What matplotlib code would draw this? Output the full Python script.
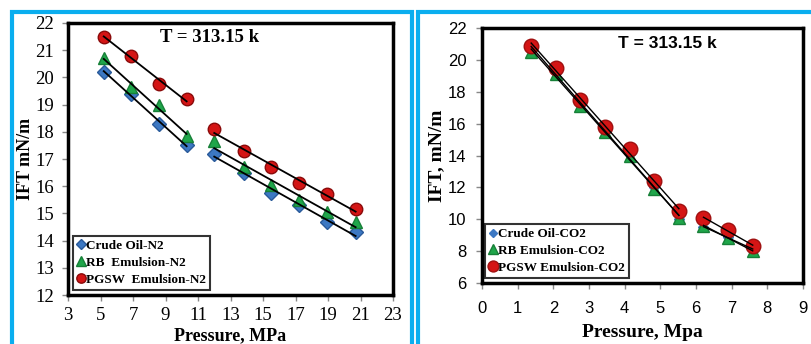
import numpy as np
import matplotlib
matplotlib.use("Agg")
from matplotlib import pyplot as plt
from matplotlib.patches import Rectangle

# ---- N2 data (left panel) ----
p_n2 = [5.2, 6.9, 8.6, 10.3, 12.0, 13.8, 15.5, 17.2, 18.95, 20.7]
crude_n2 = [20.2, 19.4, 18.3, 17.5, 17.2, 16.5, 15.75, 15.3, 14.7, 14.3]
rb_n2 = [20.7, 19.65, 19.0, 17.85, 17.65, 16.7, 16.05, 15.5, 15.05, 14.7]
pgsw_n2 = [21.5, 20.8, 19.75, 19.2, 18.1, 17.3, 16.7, 16.1, 15.7, 15.15]
split_n2 = 4

# ---- CO2 data (right panel) ----
p_co2 = [1.38, 2.07, 2.76, 3.45, 4.14, 4.83, 5.52, 6.21, 6.9, 7.59]
crude_co2 = [20.6, 19.2, 17.3, 15.6, 14.1, 12.0, 10.0, 9.5, 8.9, 8.1]
rb_co2 = [20.5, 19.1, 17.1, 15.5, 14.0, 11.9, 10.1, 9.6, 8.85, 8.0]
pgsw_co2 = [20.9, 19.5, 17.5, 15.8, 14.4, 12.4, 10.5, 10.1, 9.3, 8.35]
split_co2 = 7

labels_n2 = ["Crude Oil-N2", "RB  Emulsion-N2", "PGSW  Emulsion-N2"]
labels_co2 = ["Crude Oil-CO2", "RB Emulsion-CO2", "PGSW Emulsion-CO2"]

blue = "#3C78C3"
green = "#1FA64A"
red = "#D41515"
cyan = "#0AAEEF"

serif = "Liberation Serif"
sans = "Liberation Sans"

fig = plt.figure(figsize=(8.11, 3.44), dpi=100)

# cyan panel frames
W, H = 811.0, 344.0
for x0, x1 in [(12, 412), (418, 830)]:
    fig.patches.append(Rectangle((x0 / W, -0.1), (x1 - x0) / W, 1.1 - 12 / H,
                                 transform=fig.transFigure, fill=False,
                                 ec=cyan, lw=3, zorder=0))


def fit_line(ax, x, y, split, lw, color="black"):
    for seg in (slice(0, split), slice(split, None)):
        xs = np.array(x[seg])
        ys = np.array(y[seg])
        k, b = np.polyfit(xs, ys, 1)
        ax.plot([xs[0], xs[-1]], [k * xs[0] + b, k * xs[-1] + b],
                color=color, lw=lw, zorder=4)


def style_axes(ax, tickfont, size, xpad, ypad):
    for s in ax.spines.values():
        s.set_linewidth(2.5)
        s.set_color("black")
    ax.tick_params(direction="out", length=4, width=1, color="#888888",
                   labelsize=size)
    ax.tick_params(axis="x", pad=xpad)
    ax.tick_params(axis="y", pad=ypad)
    for t in ax.get_xticklabels() + ax.get_yticklabels():
        t.set_fontfamily(tickfont)


def make_legend(ax, labels_anchor):
    leg = ax.legend(loc="lower left", bbox_to_anchor=labels_anchor,
                    prop={"family": serif, "weight": "bold", "size": 9.5},
                    frameon=True, fancybox=False, handlelength=0.6,
                    handletextpad=0.1, borderpad=0.3, labelspacing=0.35,
                    markerscale=0.75, borderaxespad=0.0)
    leg.get_frame().set_edgecolor("black")
    leg.get_frame().set_linewidth(1.5)
    return leg


# ---------------- left panel ----------------
ax1 = fig.add_axes([68 / W, 1 - 295 / H, 325 / W, 272 / H])
ax1.plot(p_n2, crude_n2, ls="none", marker="D", ms=7, mfc=blue, mec="#2A5A9A",
         label=labels_n2[0], zorder=3)
ax1.plot(p_n2, rb_n2, ls="none", marker="^", ms=9, mfc=green, mec="#178038",
         label=labels_n2[1], zorder=3)
ax1.plot(p_n2, pgsw_n2, ls="none", marker="o", ms=9, mfc=red, mec="#8A0A0A",
         label=labels_n2[2], zorder=3)
for y in (crude_n2, rb_n2, pgsw_n2):
    fit_line(ax1, p_n2, y, split_n2, 1.3)
ax1.set_xlim(3, 23)
ax1.set_ylim(12, 22)
ax1.set_xticks(range(3, 24, 2))
ax1.set_yticks(range(12, 23))
style_axes(ax1, serif, 13.5, 5, 6)
ax1.set_xlabel("Pressure, MPa", fontfamily=serif, fontweight="bold",
               fontsize=13, labelpad=2)
ax1.set_ylabel("IFT mN/m", fontfamily=serif, fontweight="bold",
               fontsize=13, labelpad=1)
ax1.text(0.437, 0.945, "T = 313.15 k", transform=ax1.transAxes,
         ha="center", va="center", fontfamily=serif, fontweight="bold",
         fontsize=13.5)
make_legend(ax1, (0.015, 0.02))

# ---------------- right panel ----------------
ax2 = fig.add_axes([482 / W, 1 - 283 / H, 321 / W, 255 / H])
ax2.plot(p_co2, crude_co2, ls="none", marker="D", ms=5, mfc=blue, mec=blue,
         label=labels_co2[0], zorder=2)
ax2.plot(p_co2, rb_co2, ls="none", marker="^", ms=9, mfc=green, mec="#178038",
         label=labels_co2[1], zorder=2)
ax2.plot(p_co2, pgsw_co2, ls="none", marker="o", ms=10.5, mfc=red,
         mec="#A01010", label=labels_co2[2], zorder=3)
for y in (crude_co2, rb_co2, pgsw_co2):
    fit_line(ax2, p_co2, y, split_co2, 1.0)
ax2.set_xlim(0, 9)
ax2.set_ylim(6, 22)
ax2.set_xticks(range(0, 10))
ax2.set_yticks(range(6, 23, 2))
style_axes(ax2, sans, 12, 9, 7)
ax2.set_xlabel("Pressure, Mpa", fontfamily=serif, fontweight="bold",
               fontsize=14, labelpad=6)
ax2.set_ylabel("IFT, mN/m", fontfamily=serif, fontweight="bold",
               fontsize=14, labelpad=2)
ax2.text(0.576, 0.94, "T = 313.15 k", transform=ax2.transAxes,
         ha="center", va="center", fontfamily=sans, fontweight="bold",
         fontsize=12.5)
make_legend(ax2, (0.01, 0.02))

fig.savefig("out.png", dpi=100)
